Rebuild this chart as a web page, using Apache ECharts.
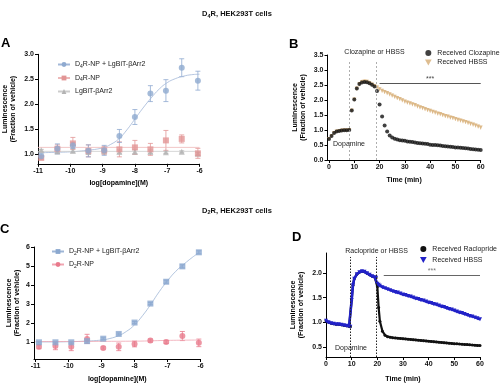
<!DOCTYPE html>
<html><head><meta charset="utf-8">
<script src="https://cdn.jsdelivr.net/npm/echarts@6/dist/echarts.min.js"></script>
<style>html,body{margin:0;padding:0;background:#fff}#c{width:500px;height:385px}</style>
</head><body><div id="c"></div>
<script>
// ---------- DATA ----------
const logDose = [-10.9, -10.4, -9.92, -9.44, -8.95, -8.48, -8, -7.52, -7.04, -6.55, -6.05];
// Panel A (D4R)
const aBlue    = [0.95, 1.10, 1.17, 1.06, 1.07, 1.36, 1.74, 2.21, 2.27, 2.73, 2.47];
const aBlueErr = [0.05, 0.10, 0.06, 0.12, 0.10, 0.13, 0.15, 0.16, 0.22, 0.18, 0.19];
const aRed     = [0.92, 1.10, 1.21, 1.06, 1.07, 1.09, 1.13, 1.09, 1.27, 1.30, 1.01];
const aRedErr  = [0.04, 0.08, 0.12, 0.12, 0.08, 0.15, 0.14, 0.12, 0.20, 0.08, 0.10];
const aGray    = [1.07, 1.05, 1.06, 1.04, 1.05, 1.04, 1.04, 1.04, 1.03, 1.04, 1.00];
const aGrayErr = [0.02, 0.05, 0.04, 0.05, 0.03, 0.04, 0.04, 0.04, 0.02, 0.02, 0.03];
const fitAX    = [-11, -10.5, -10, -9.5, -9, -8.75, -8.5, -8.25, -8, -7.75, -7.5, -7.25, -7, -6.75, -6.5, -6.25, -6];
const fitABlue = [1.02, 1.03, 1.04, 1.07, 1.12, 1.19, 1.30, 1.48, 1.70, 1.92, 2.12, 2.30, 2.43, 2.51, 2.56, 2.59, 2.60];
const fitFlatX = [-11, -6];
const fitARed  = [1.13, 1.13];
const fitAGray = [1.05, 1.05];
// Panel C (D2R)
const cBlue    = [0.98, 0.98, 0.98, 1.04, 1.17, 1.42, 2.02, 3.02, 4.17, 4.98, 5.72];
const cBlueErr = [0.04, 0.04, 0.04, 0.05, 0.05, 0.05, 0.06, 0.06, 0.08, 0.08, 0.08];
const cRed     = [0.74, 0.79, 0.74, 1.16, 0.68, 0.74, 0.89, 1.07, 1.00, 1.31, 0.95];
const cRedErr  = [0.10, 0.20, 0.20, 0.24, 0.06, 0.20, 0.15, 0.08, 0.08, 0.24, 0.20];
const fitCX    = [-11, -10.5, -10, -9.5, -9, -8.75, -8.5, -8.25, -8, -7.75, -7.5, -7.25, -7, -6.75, -6.5, -6.25, -6.05];
const fitCBlue = [1.00, 1.00, 1.01, 1.04, 1.10, 1.18, 1.32, 1.55, 1.90, 2.40, 3.00, 3.65, 4.22, 4.72, 5.10, 5.45, 5.70];
const fitCRedX = [-11, -8, -7, -6.05];
const fitCRed  = [1.02, 1.04, 1.08, 1.10];
// Panel B (D4R kinetics, clozapine)
const tB = [0,1,2,3,4,5,6,7,8,9,10,11,12,13,14,15,16,17,18,19,20,21,22,23,24,25,26,27,28,29,30,
            31,32,33,34,35,36,37,38,39,40,41,42,43,44,45,46,47,48,49,50,51,52,53,54,55,56,57,58,59,60];
const bClozapine = [0.70,0.80,0.90,0.95,0.97,0.98,0.99,0.99,1.00,1.65,2.02,2.38,2.53,2.58,2.60,2.59,2.56,2.51,2.45,2.30,
                    1.85,1.45,1.15,0.95,0.82,0.75,0.71,0.68,0.66,0.65,0.64,0.62,0.61,0.60,0.58,0.57,0.56,0.55,0.54,0.53,
                    0.51,0.50,0.50,0.49,0.48,0.47,0.46,0.45,0.44,0.43,0.42,0.42,0.41,0.40,0.39,0.38,0.37,0.36,0.35,0.34,0.33];
const bHBSS = [0.70,0.80,0.90,0.95,0.97,0.98,0.99,0.99,1.00,1.65,2.02,2.38,2.53,2.60,2.62,2.61,2.57,2.52,2.47,2.42,
               2.36,2.31,2.27,2.23,2.19,2.15,2.11,2.07,2.03,1.99,1.95,1.92,1.89,1.86,1.83,1.79,1.76,1.73,1.70,1.67,
               1.64,1.61,1.58,1.55,1.53,1.50,1.47,1.45,1.42,1.40,1.37,1.34,1.32,1.29,1.27,1.24,1.21,1.18,1.15,1.12,1.08];
const bHBSSErr = [0.03,0.03,0.03,0.03,0.03,0.03,0.03,0.03,0.03,0.05,0.06,0.07,0.08,0.08,0.08,0.08,0.08,0.08,0.07,0.07,
                  0.07,0.07,0.07,0.07,0.07,0.07,0.07,0.07,0.07,0.07,0.07,0.07,0.07,0.07,0.07,0.07,0.07,0.07,0.07,0.07,
                  0.07,0.07,0.07,0.07,0.07,0.07,0.07,0.07,0.07,0.07,0.07,0.07,0.07,0.07,0.07,0.07,0.07,0.07,0.07,0.07,0.07];
const bAddTimes = [8, 18.5];
// Panel D (D2R kinetics, raclopride)
const tD = [0,1,2,3,4,5,6,7,8,9,9.5,10,10.5,11,12,13,14,15,16,17,18,19,19.5,20,20.5,
            21,22,23,24,25,26,27,28,29,30,31,32,33,34,35,36,37,38,39,40,41,42,43,44,45,46,47,48,49,50,51,52,53,54,55,56,57,58,59,60];
const dHBSS = [1.03,1.00,0.98,0.97,0.96,0.96,0.95,0.94,0.93,0.92,0.91,1.45,1.75,1.88,1.97,2.01,2.03,2.02,1.99,1.96,1.93,1.91,1.90,1.78,1.76,
               1.74,1.71,1.69,1.67,1.65,1.63,1.61,1.60,1.58,1.56,1.55,1.53,1.52,1.50,1.48,1.47,1.45,1.44,1.42,1.40,
               1.39,1.37,1.36,1.34,1.32,1.31,1.29,1.27,1.26,1.24,1.22,1.20,1.19,1.17,1.15,1.13,1.12,1.10,1.08,1.06];
const dRaclopride = [1.03,1.00,0.98,0.97,0.96,0.96,0.95,0.94,0.93,0.92,0.91,1.45,1.75,1.88,1.97,2.01,2.03,2.02,1.99,1.96,1.93,1.91,1.90,1.72,1.30,
               1.02,0.82,0.74,0.71,0.70,0.69,0.685,0.68,0.675,0.67,0.665,0.66,0.655,0.65,0.645,0.64,0.635,0.63,0.625,0.62,
               0.615,0.61,0.605,0.60,0.595,0.59,0.585,0.58,0.575,0.57,0.566,0.562,0.558,0.554,0.55,0.546,0.542,0.538,0.534,0.53];
const dAddTimes = [9.6, 19.7];
// tick labels
const doseTicks = [-11, -10, -9, -8, -7, -6];
const aYTicks = [1.0, 1.5, 2.0, 2.5, 3.0];
const cYTicks = [1, 2, 3, 4, 5, 6];
const bYTicks = [0, 0.5, 1.0, 1.5, 2.0, 2.5, 3.0, 3.5];
const dYTicks = [0.5, 1.0, 1.5, 2.0];
const timeTicks = [0, 10, 20, 30, 40, 50, 60];

// ---------- helpers ----------
const FONT = '"Liberation Sans", Arial, sans-serif';
const zip = (xs, ys) => xs.map((x, i) => [x, ys[i]]);
const zip3 = (xs, ys, es) => xs.map((x, i) => [x, ys[i], es[i]]);
function errRender(color, cap) {
  return function (params, api) {
    const x = api.value(0), y = api.value(1), e = api.value(2);
    const p1 = api.coord([x, y + e]), p2 = api.coord([x, y - e]);
    const st = { stroke: color, lineWidth: 0.8 };
    const ch = [{ type: 'line', shape: { x1: p1[0], y1: p1[1], x2: p2[0], y2: p2[1] }, style: st }];
    if (cap > 0) {
      ch.push({ type: 'line', shape: { x1: p1[0] - cap, y1: p1[1], x2: p1[0] + cap, y2: p1[1] }, style: st });
      ch.push({ type: 'line', shape: { x1: p2[0] - cap, y1: p2[1], x2: p2[0] + cap, y2: p2[1] }, style: st });
    }
    return { type: 'group', children: ch };
  };
}
function errSeries(idx, data, color, cap) {
  return { type: 'custom', xAxisIndex: idx, yAxisIndex: idx, data: data, renderItem: errRender(color, cap),
           encode: { x: 0, y: 1 }, silent: true, z: 1 };
}
function axisCommon() {
  return {
    axisLine: { show: true, onZero: false, lineStyle: { color: '#000', width: 1 } },
    axisTick: { show: true, length: 3, lineStyle: { color: '#000', width: 1 } },
    axisLabel: { fontSize: 7, color: '#111', fontFamily: FONT, fontWeight: 'bold', margin: 4 },
    splitLine: { show: false },
    nameTextStyle: { fontSize: 7, color: '#000', fontFamily: FONT, fontWeight: 'bold', lineHeight: 8 }
  };
}
function xAx(idx, min, max, ticks, name, gap) {
  const a = axisCommon();
  return Object.assign(a, { type: 'value', gridIndex: idx, min: min, max: max, name: name,
    nameLocation: 'middle', nameGap: gap,
    axisTick: Object.assign(a.axisTick, { customValues: ticks }),
    axisLabel: Object.assign(a.axisLabel, { customValues: ticks, formatter: v => String(v) }) });
}
function yAx(idx, min, max, ticks, gap, dec) {
  const a = axisCommon();
  return Object.assign(a, { type: 'value', gridIndex: idx, min: min, max: max,
    name: 'Luminescence\n(Fraction of vehicle)', nameLocation: 'middle', nameGap: gap, nameRotate: 90,
    axisTick: Object.assign(a.axisTick, { customValues: ticks }),
    axisLabel: Object.assign(a.axisLabel, { customValues: ticks, formatter: v => v.toFixed(dec) }) });
}
const subRich = {
  n: { fontSize: 7, fontFamily: FONT, color: '#222', lineHeight: 9 },
  s: { fontSize: 5, fontFamily: FONT, color: '#222', padding: [4, 0, 0, 0] }
};
function subFmt(name) {
  const m = name.match(/^D([24])R(.*)$/);
  return m ? '{n|D}{s|' + m[1] + '}{n|R' + m[2] + '}' : '{n|' + name + '}';
}
const titleRich = {
  b: { fontSize: 7.5, fontWeight: 'bold', fontFamily: FONT, fill: '#111', lineHeight: 9 },
  bs: { fontSize: 5.5, fontWeight: 'bold', fontFamily: FONT, fill: '#111', padding: [4, 0, 0, 0] }
};

// ---------- series ----------
const cA = { blue: '#8FAAD0', blueL: '#A3B8D8', red: '#E29595', redL: '#EDB8B8', gray: '#B3B3B3', grayL: '#CCCCCC' };
const cC = { blue: '#8BA8CF', blueL: '#9FB6D6', red: '#E97A8C', redL: '#F0A6B2' };
const series = [
  { name: 'D4R-NP + LgBiT-βArr2', type: 'line', xAxisIndex: 0, yAxisIndex: 0, data: zip(fitAX, fitABlue), smooth: true,
    showSymbol: false, symbol: 'circle', symbolSize: 6, itemStyle: { color: cA.blue }, lineStyle: { color: cA.blueL, width: 0.8 }, z: 2 },
  { name: 'D4R-NP', type: 'line', xAxisIndex: 0, yAxisIndex: 0, data: zip(fitFlatX, fitARed),
    showSymbol: false, symbol: 'rect', symbolSize: 6, itemStyle: { color: cA.red }, lineStyle: { color: cA.redL, width: 0.8 }, z: 2 },
  { name: 'LgBiT-βArr2', type: 'line', xAxisIndex: 0, yAxisIndex: 0, data: zip(fitFlatX, fitAGray),
    showSymbol: false, symbol: 'triangle', symbolSize: 6, itemStyle: { color: cA.gray }, lineStyle: { color: cA.grayL, width: 0.8 }, z: 2 },
  errSeries(0, zip3(logDose, aGray, aGrayErr), cA.gray, 2.5),
  errSeries(0, zip3(logDose, aRed, aRedErr), cA.red, 2.5),
  errSeries(0, zip3(logDose, aBlue, aBlueErr), cA.blue, 2.5),
  { type: 'scatter', xAxisIndex: 0, yAxisIndex: 0, data: zip(logDose, aGray), symbol: 'triangle', symbolSize: 6, itemStyle: { color: cA.gray }, z: 3 },
  { type: 'scatter', xAxisIndex: 0, yAxisIndex: 0, data: zip(logDose, aRed), symbol: 'rect', symbolSize: 6, itemStyle: { color: cA.red }, z: 3 },
  { type: 'scatter', xAxisIndex: 0, yAxisIndex: 0, data: zip(logDose, aBlue), symbol: 'circle', symbolSize: 6, itemStyle: { color: cA.blue }, z: 4 },

  errSeries(1, zip3(tB, bHBSS, bHBSSErr), '#F2DCBE', 0),
  { name: 'Received HBSS', type: 'scatter', xAxisIndex: 1, yAxisIndex: 1, data: zip(tB, bHBSS), symbol: 'triangle', symbolRotate: 180,
    symbolSize: 4, itemStyle: { color: '#D6AC74' }, z: 3 },
  { name: 'Received Clozapine', type: 'scatter', xAxisIndex: 1, yAxisIndex: 1, data: zip(tB, bClozapine), symbol: 'circle',
    symbolSize: 4, itemStyle: { color: '#111' }, z: 4,
    markLine: { silent: true, symbol: ['none', 'none'], animation: false,
      data: [
        [{ coord: [bAddTimes[0], 0], lineStyle: { color: '#999', type: [2, 2], width: 0.8 }, label: { show: false } }, { coord: [bAddTimes[0], 3.3] }],
        [{ coord: [bAddTimes[1], 0], lineStyle: { color: '#999', type: [2, 2], width: 0.8 }, label: { show: false } }, { coord: [bAddTimes[1], 3.3] }],
        [{ coord: [20, 2.55], lineStyle: { color: '#555', type: 'solid', width: 1.2 },
           label: { show: true, formatter: '***', position: 'insideMiddleTop', distance: 1, fontSize: 7, color: '#444', fontFamily: FONT } },
         { coord: [60, 2.55] }]
      ] } },

  { name: 'D2R-NP + LgBiT-βArr2', type: 'line', xAxisIndex: 2, yAxisIndex: 2, data: zip(fitCX, fitCBlue), smooth: true,
    showSymbol: false, symbol: 'rect', symbolSize: 6, itemStyle: { color: cC.blue }, lineStyle: { color: cC.blueL, width: 0.8 }, z: 2 },
  { name: 'D2R-NP', type: 'line', xAxisIndex: 2, yAxisIndex: 2, data: zip(fitCRedX, fitCRed), smooth: true,
    showSymbol: false, symbol: 'circle', symbolSize: 6, itemStyle: { color: cC.red }, lineStyle: { color: cC.redL, width: 0.8 }, z: 2 },
  errSeries(2, zip3(logDose, cRed, cRedErr), cC.red, 2.5),
  errSeries(2, zip3(logDose, cBlue, cBlueErr), cC.blue, 2.5),
  { type: 'scatter', xAxisIndex: 2, yAxisIndex: 2, data: zip(logDose, cRed), symbol: 'circle', symbolSize: 6, itemStyle: { color: cC.red }, z: 3 },
  { type: 'scatter', xAxisIndex: 2, yAxisIndex: 2, data: zip(logDose, cBlue), symbol: 'rect', symbolSize: 6, itemStyle: { color: cC.blue }, z: 4 },

  { name: 'Received Raclopride', type: 'line', xAxisIndex: 3, yAxisIndex: 3, data: zip(tD, dRaclopride), symbol: 'circle',
    symbolSize: 3, showAllSymbol: true, itemStyle: { color: '#111' }, lineStyle: { color: '#111', width: 2.2 }, z: 3,
    markLine: { silent: true, symbol: ['none', 'none'], animation: false,
      data: [
        [{ coord: [dAddTimes[0], 0.3], lineStyle: { color: '#222', type: [1.5, 1.5], width: 1 }, label: { show: false } }, { coord: [dAddTimes[0], 2.32] }],
        [{ coord: [dAddTimes[1], 0.3], lineStyle: { color: '#222', type: [1.5, 1.5], width: 1 }, label: { show: false } }, { coord: [dAddTimes[1], 2.32] }],
        [{ coord: [22.5, 1.95], lineStyle: { color: '#666', type: 'solid', width: 1.2 },
           label: { show: true, formatter: '***', position: 'insideMiddleTop', distance: 1, fontSize: 7, color: '#777', fontFamily: FONT } },
         { coord: [60, 1.95] }]
      ] } },
  { name: 'Received HBSS ', type: 'line', xAxisIndex: 3, yAxisIndex: 3, data: zip(tD, dHBSS), symbol: 'triangle', symbolRotate: 180,
    symbolSize: 4, showAllSymbol: true, itemStyle: { color: '#2222C8' }, lineStyle: { color: '#2222C8', width: 2.6 }, z: 4 }
];

const option = {
  animation: false,
  backgroundColor: '#fff',
  textStyle: { fontFamily: FONT },
  grid: [
    { left: 38, top: 54.3, width: 161.5, height: 109.5 },
    { left: 327.5, top: 55, width: 153.2, height: 105 },
    { left: 34, top: 247, width: 166.5, height: 112 },
    { left: 326, top: 253, width: 154, height: 104 }
  ],
  xAxis: [
    xAx(0, -11, -6, doseTicks, 'log[dopamine](M)', 15),
    xAx(1, -0.6, 60, timeTicks, 'Time (min)', 16),
    xAx(2, -11.05, -6, doseTicks, 'log[dopamine](M)', 16),
    xAx(3, 0, 60, timeTicks, 'Time (min)', 18)
  ],
  yAxis: [
    yAx(0, 0.8, 3.0, aYTicks, 21, 1),
    yAx(1, 0, 3.5, bYTicks, 20, 1),
    yAx(2, 0.1, 6, cYTicks, 13, 0),
    yAx(3, 0.3, 2.4, dYTicks, 21, 1)
  ],
  legend: [
    { orient: 'vertical', left: 52, top: 56, itemWidth: 12, itemHeight: 6, itemGap: 5.5,
      data: ['D4R-NP + LgBiT-βArr2', 'D4R-NP', 'LgBiT-βArr2'], formatter: subFmt,
      textStyle: { fontSize: 7, color: '#222', fontFamily: FONT, rich: subRich } },
    { orient: 'vertical', left: 420, top: 44, itemWidth: 8, itemHeight: 6, itemGap: 1.5,
      data: [{ name: 'Received Clozapine', icon: 'circle' }, { name: 'Received HBSS', icon: 'path://M0,0L10,0L5,9Z' }],
      textStyle: { fontSize: 7, color: '#222', fontFamily: FONT, lineHeight: 8 } },
    { orient: 'vertical', left: 46, top: 243, itemWidth: 12, itemHeight: 6, itemGap: 5,
      data: ['D2R-NP + LgBiT-βArr2', 'D2R-NP'], formatter: subFmt,
      textStyle: { fontSize: 7, color: '#222', fontFamily: FONT, rich: subRich } },
    { orient: 'vertical', left: 415, top: 240, itemWidth: 8, itemHeight: 6, itemGap: 3,
      data: [{ name: 'Received Raclopride', icon: 'circle' }, { name: 'Received HBSS ', icon: 'path://M0,0L10,0L5,9Z' }],
      formatter: n => n.trim(),
      textStyle: { fontSize: 7, color: '#222', fontFamily: FONT, lineHeight: 8 } }
  ],
  graphic: [
    { type: 'text', x: 237, y: 9, style: { text: '{b|D}{bs|4}{b|R, HEK293T cells}', align: 'center', rich: titleRich } },
    { type: 'text', x: 237, y: 205.5, style: { text: '{b|D}{bs|2}{b|R, HEK293T cells}', align: 'center', rich: titleRich } },
    { type: 'text', x: 1, y: 37, style: { text: 'A', fontSize: 13, fontWeight: 'bold', fontFamily: FONT, fill: '#000' } },
    { type: 'text', x: 289, y: 38, style: { text: 'B', fontSize: 13, fontWeight: 'bold', fontFamily: FONT, fill: '#000' } },
    { type: 'text', x: 0, y: 223, style: { text: 'C', fontSize: 13, fontWeight: 'bold', fontFamily: FONT, fill: '#000' } },
    { type: 'text', x: 292, y: 231, style: { text: 'D', fontSize: 13, fontWeight: 'bold', fontFamily: FONT, fill: '#000' } },
    { type: 'text', x: 374.5, y: 52, style: { text: 'Clozapine or HBSS', fontSize: 7, fontFamily: FONT, fill: '#222', align: 'center', verticalAlign: 'middle' } },
    { type: 'text', x: 349, y: 144, style: { text: 'Dopamine', fontSize: 7, fontFamily: FONT, fill: '#222', align: 'center', verticalAlign: 'middle' } },
    { type: 'text', x: 376.5, y: 251.5, style: { text: 'Raclopride or HBSS', fontSize: 7, fontFamily: FONT, fill: '#222', align: 'center', verticalAlign: 'middle' } },
    { type: 'text', x: 351, y: 348, style: { text: 'Dopamine', fontSize: 7, fontFamily: FONT, fill: '#222', align: 'center', verticalAlign: 'middle' } }
  ],
  series: series
};
const chart = echarts.init(document.getElementById('c'), null, { renderer: 'canvas' });
chart.setOption(option);
</script></body></html>
